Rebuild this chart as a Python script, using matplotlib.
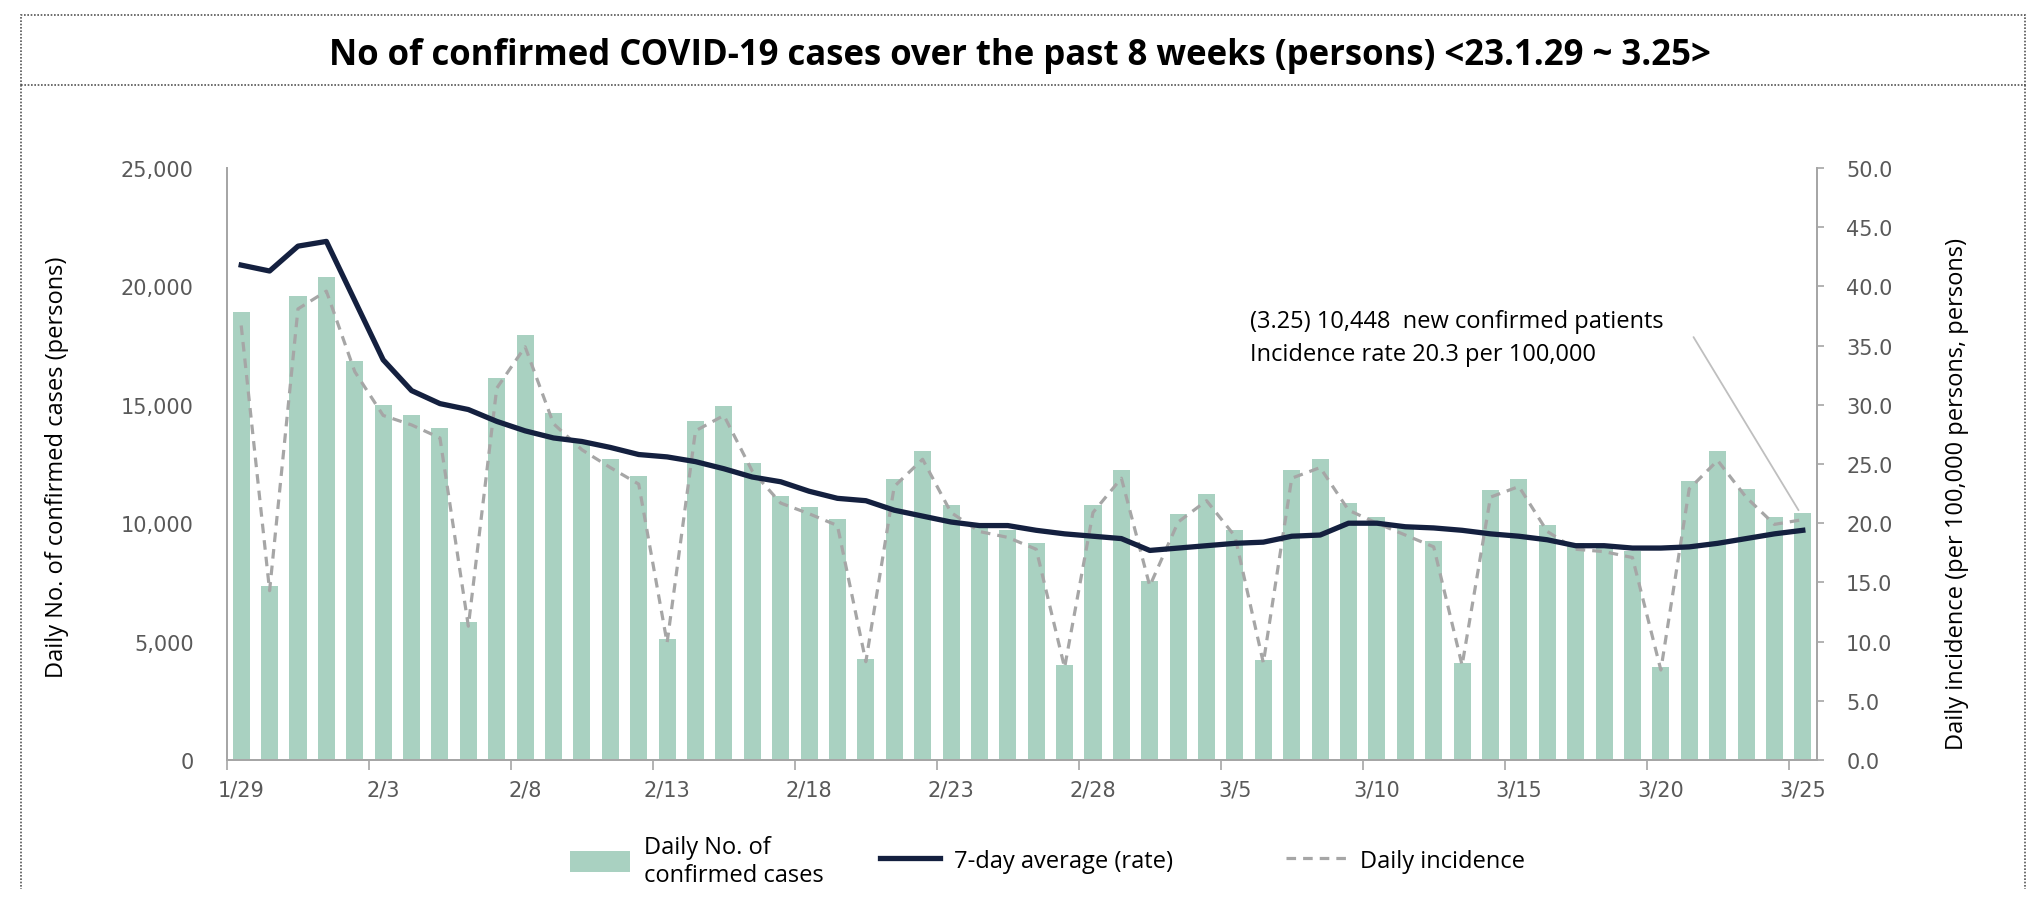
import matplotlib
matplotlib.use("Agg")
import matplotlib.pyplot as plt
from matplotlib.patches import Patch, Rectangle
from matplotlib.lines import Line2D
from matplotlib.ticker import FixedLocator, FuncFormatter
import numpy as np

# ---------------- data ----------------
dates = ["1/29", "1/30", "1/31", "2/1", "2/2", "2/3", "2/4", "2/5", "2/6", "2/7",
         "2/8", "2/9", "2/10", "2/11", "2/12", "2/13", "2/14", "2/15", "2/16", "2/17",
         "2/18", "2/19", "2/20", "2/21", "2/22", "2/23", "2/24", "2/25", "2/26", "2/27",
         "2/28", "3/1", "3/2", "3/3", "3/4", "3/5", "3/6", "3/7", "3/8", "3/9",
         "3/10", "3/11", "3/12", "3/13", "3/14", "3/15", "3/16", "3/17", "3/18", "3/19",
         "3/20", "3/21", "3/22", "3/23", "3/24", "3/25"]

daily_cases = [18900, 7350, 19600, 20400, 16870, 14980, 14570, 14000, 5820, 16140,
               17940, 14640, 13470, 12720, 12010, 5100, 14320, 14960, 12540, 11160,
               10680, 10180, 4270, 11870, 13060, 10770, 9910, 9700, 9160, 4000,
               10770, 12240, 7560, 10370, 11250, 9730, 4220, 12240, 12720, 10840,
               10270, 9800, 9250, 4110, 11410, 11870, 9910, 9160, 9070, 8810,
               3910, 11800, 13040, 11440, 10250, 10448]

daily_incidence = [36.7, 14.3, 38.1, 39.6, 32.8, 29.1, 28.3, 27.2, 11.3, 31.4,
                   34.9, 28.4, 26.2, 24.7, 23.3, 9.9, 27.8, 29.1, 24.4, 21.7,
                   20.8, 19.8, 8.3, 23.1, 25.4, 20.9, 19.3, 18.8, 17.8, 7.8,
                   20.9, 23.8, 14.7, 20.1, 21.9, 18.9, 8.2, 23.8, 24.7, 21.1,
                   20.0, 19.0, 18.0, 8.0, 22.2, 23.1, 19.3, 17.8, 17.6, 17.1,
                   7.6, 22.9, 25.3, 22.2, 19.9, 20.3]

avg7_rate = [41.8, 41.3, 43.4, 43.8, 38.8, 33.8, 31.2, 30.1, 29.6, 28.6,
             27.8, 27.2, 26.9, 26.4, 25.8, 25.6, 25.2, 24.6, 23.9, 23.5,
             22.7, 22.1, 21.9, 21.1, 20.6, 20.1, 19.8, 19.8, 19.4, 19.1,
             18.9, 18.7, 17.7, 17.9, 18.1, 18.3, 18.4, 18.9, 19.0, 20.0,
             20.0, 19.7, 19.6, 19.4, 19.1, 18.9, 18.6, 18.1, 18.1, 17.9,
             17.9, 18.0, 18.3, 18.7, 19.1, 19.4]

left_ticks = [0, 5000, 10000, 15000, 20000, 25000]
right_ticks = [0, 5, 10, 15, 20, 25, 30, 35, 40, 45, 50]

title_text = "No of confirmed COVID-19 cases over the past 8 weeks (persons) <23.1.29 ~ 3.25>"
left_label = "Daily No. of confirmed cases (persons)"
right_label = "Daily incidence (per 100,000 persons, persons)"
note_lines = ["(3.25) 10,448  new confirmed patients", "Incidence rate 20.3 per 100,000"]
legend_labels = ["Daily No. of\nconfirmed cases", "7-day average (rate)", "Daily incidence"]

# ---------------- style ----------------
BAR = "#A9D1C1"
NAVY = "#14203F"
DASH = "#A6A6A6"
TICK = "#595959"
SPINE = "#A6A6A6"
NARROW = ["Liberation Sans Narrow", "Open Sans", "DejaVu Sans"]

W, H = 2040, 920
fig = plt.figure(figsize=(W / 100, H / 100), dpi=100)

def fx(px):
    return px / W

def fy(py):
    return 1 - py / H

ax = fig.add_axes([fx(227), fy(761), fx(1817) - fx(227), fy(169) - fy(761)])
ax2 = ax.twinx()

x = np.arange(len(dates))
ax.bar(x, daily_cases, width=0.6, color=BAR, zorder=2)
ax.set_xlim(-0.5, len(dates) - 0.5)
ax.set_ylim(0, 25000)
ax2.set_ylim(0, 50)

ax2.plot(x, daily_incidence, color=DASH, lw=2.3, dashes=(3, 2.2), zorder=3)
ax2.plot(x, avg7_rate, color=NAVY, lw=3.8, solid_joinstyle="round", zorder=4)

# spines
for a in (ax, ax2):
    a.spines["top"].set_visible(False)
    for s in ("left", "right", "bottom"):
        a.spines[s].set_color(SPINE)
        a.spines[s].set_linewidth(1.3)

# left axis
ax.yaxis.set_major_locator(FixedLocator(left_ticks))
ax.yaxis.set_major_formatter(FuncFormatter(lambda v, p: f"{int(v):,}"))
ax.tick_params(axis="y", length=0, pad=24, labelsize=15, labelcolor=TICK)

# right axis
ax2.yaxis.set_major_locator(FixedLocator(right_ticks))
ax2.yaxis.set_major_formatter(FuncFormatter(lambda v, p: f"{v:.1f}"))
ax2.tick_params(axis="y", length=5, width=1.2, color=SPINE, pad=16, labelsize=15, labelcolor=TICK)

# bottom axis
label_idx = list(range(0, len(dates), 5))
ax.set_xticks(label_idx)
ax.set_xticklabels([dates[i] for i in label_idx])
ax.set_xticks([i - 0.5 for i in label_idx], minor=True)
ax.tick_params(axis="x", which="major", length=0, pad=14, labelsize=15, labelcolor=TICK)
ax.tick_params(axis="x", which="minor", length=7, width=1.2, color=SPINE)

# axis titles
fig.text(fx(57), fy(467), left_label, rotation=90, ha="center", va="center",
         fontsize=17, family=NARROW, color="black")
fig.text(fx(1957), fy(494), right_label, rotation=90, ha="center", va="center",
         fontsize=17, family=NARROW, color="black")

# title
fig.text(0.5, fy(56), title_text, ha="center", va="center", fontsize=25,
         fontweight="bold", family=NARROW, color="black")

# annotation
fig.text(fx(1250), fy(322), note_lines[0], ha="left", va="center", fontsize=17,
         family=["Open Sans", "DejaVu Sans"], color="black")
fig.text(fx(1250), fy(355), note_lines[1], ha="left", va="center", fontsize=17,
         family=["Open Sans", "DejaVu Sans"], color="black")
last = len(dates) - 1
ax.annotate("", xy=(last - 0.1, daily_cases[last]), xytext=(51.1, 17960),
            arrowprops=dict(arrowstyle="-", color="#BFBFBF", lw=1.3), zorder=5)

# frame (dotted)
dot = (0, (1, 1))
fig.patches.append(Rectangle((fx(21), fy(86)), fx(2025) - fx(21), fy(16) - fy(86),
                             transform=fig.transFigure, fill=False, ls=dot, lw=1.2,
                             edgecolor="#555555"))
for xx in (21, 2025):
    fig.lines.append(Line2D([fx(xx), fx(xx)], [fy(86), fy(890)], transform=fig.transFigure,
                            ls=dot, lw=1.2, color="#555555"))

# legend (three items placed individually)
handles = [Patch(facecolor=BAR, edgecolor="none"),
           Line2D([], [], color=NAVY, lw=3.8),
           Line2D([], [], color=DASH, lw=2.3, dashes=(3, 2.2))]
leg_x = [570, 880, 1286]
for h, lab, lx in zip(handles, legend_labels, leg_x):
    fig.legend([h], [lab], loc="center left", bbox_to_anchor=(fx(lx), fy(862)),
               frameon=False, handlelength=2.55, handleheight=1.0,
               handletextpad=0.6, borderpad=0, borderaxespad=0,
               prop={"family": NARROW, "size": 17})

fig.savefig("out.png", dpi=100)
